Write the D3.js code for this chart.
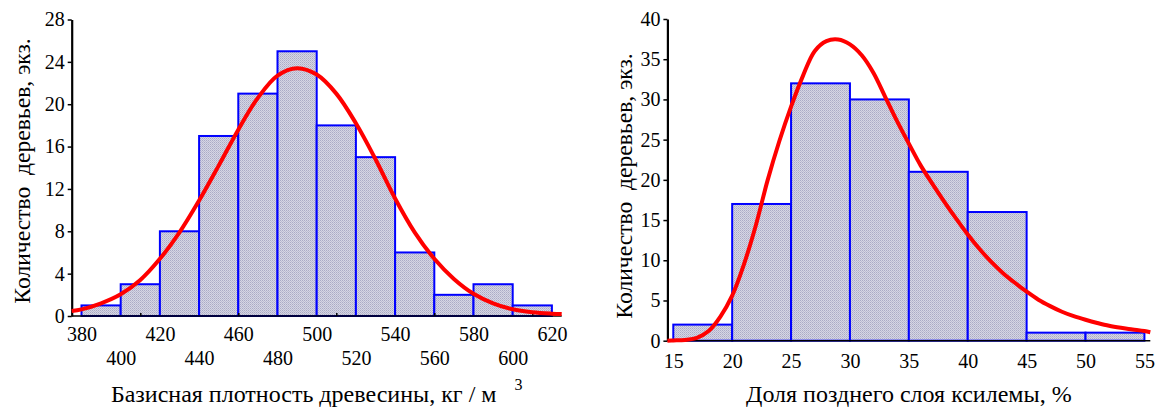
<!DOCTYPE html>
<html>
<head>
<meta charset="utf-8">
<script src="https://cdn.jsdelivr.net/npm/d3@7"></script>
<style>
  body { margin: 0; background: #fff; }
  svg { display: block; }
  svg text { font-family: "Liberation Serif", "Times New Roman", serif; white-space: pre; }
</style>
</head>
<body>
<svg id="chart"></svg>
<script>
// left panel: basic density of wood
let densityEdges = [380, 400, 420, 440, 460, 480, 500, 520, 540, 560, 580, 600, 620];
let densityCounts = [1, 3, 8, 17, 21, 25, 18, 15, 6, 2, 3, 1];
let densityTicks = [380, 400, 420, 440, 460, 480, 500, 520, 540, 560, 580, 600, 620];
let densityMinorTicks = [410, 460, 510, 560, 610];
let densityYTicks = [0, 4, 8, 12, 16, 20, 24, 28];
// fitted curve
let densityCurveX = [375, 380, 390, 400, 410, 420, 430, 440, 450, 460, 470, 480, 490, 500, 510, 520, 530, 540, 550, 560, 570, 580, 590, 600, 610, 620, 625];
let densityCurveY = [0.47, 0.63, 1.2, 2.05, 3.4, 5.4, 7.9, 10.9, 14.2, 17.6, 20.6, 22.7, 23.4, 22.8, 21.0, 18.2, 14.8, 11.1, 7.9, 5.4, 3.5, 2.1, 1.2, 0.64, 0.36, 0.22, 0.18];

// right panel: share of latewood
let latewoodEdges = [15, 20, 25, 30, 35, 40, 45, 50, 55];
let latewoodCounts = [2, 17, 32, 30, 21, 16, 1, 1];
let latewoodTicks = [15, 20, 25, 30, 35, 40, 45, 50, 55];
let latewoodYTicks = [0, 5, 10, 15, 20, 25, 30, 35, 40];
let latewoodCurveX = [14.5, 15, 16, 17, 18, 19, 20, 21, 22, 23, 24, 25, 26, 27, 28, 29, 30, 31, 32, 33, 34, 35, 36, 37, 38, 39, 40, 41, 42, 43, 44, 45, 46, 47, 48, 49, 50, 51, 52, 53, 54, 55, 55.5];
let latewoodCurveY = [0, 0.03, 0.1, 0.35, 1.2, 3.0, 5.6, 9.5, 14.3, 19.9, 24.8, 29.1, 32.9, 36.0, 37.25, 37.45, 36.85, 35.5, 33.3, 30.3, 27.3, 24.5, 21.8, 19.5, 17.3, 15.2, 13.2, 11.4, 9.8, 8.4, 7.2, 6.1, 5.1, 4.3, 3.6, 3.05, 2.6, 2.2, 1.85, 1.6, 1.4, 1.2, 1.05];

let width = 1156;
let height = 407;
let font = 20;
let titleFont = 24;
let serif = "Liberation Serif, Times New Roman, serif";

let svg = d3.select("#chart").attr("width", width).attr("height", height);

// dotted fill of the bars
let defs = svg.append("defs");
let pat = defs.append("pattern")
    .attr("id", "dots")
    .attr("patternUnits", "userSpaceOnUse")
    .attr("width", 2)
    .attr("height", 2);
pat.append("rect").attr("width", 2).attr("height", 2).attr("fill", "#d6d6e4");
pat.append("rect").attr("width", 1).attr("height", 1).attr("fill", "#ababc6");
pat.append("rect").attr("x", 1).attr("y", 1).attr("width", 1).attr("height", 1).attr("fill", "#bcbcd2");

let drawPanel = (p) => {
    let x = d3.scaleLinear().domain(p.xDomain).range(p.xRange);
    let y = d3.scaleLinear().domain(p.yDomain).range(p.yRange);
    let g = svg.append("g");

    // bars
    let bins = p.counts.map((c, i) => [p.edges[i], p.edges[i + 1], c]);
    g.selectAll("rect.bar")
        .data(bins)
        .enter()
        .append("rect")
        .attr("class", "bar")
        .attr("x", d => x(d[0]))
        .attr("width", d => x(d[1]) - x(d[0]))
        .attr("y", d => y(d[2]))
        .attr("height", d => y(0) - y(d[2]))
        .attr("fill", "url(#dots)")
        .attr("stroke", "#0000ff")
        .attr("stroke-width", 2);

    // x axis line + small inner ticks
    let xAxis = g.append("g")
        .attr("transform", "translate(0," + y(0) + ")")
        .call(d3.axisBottom(x).tickValues(p.minorTicks).tickSize(-3).tickFormat(""));
    xAxis.select(".domain").attr("d", "M" + p.xRange[0] + ",0H" + p.xRange[1]).attr("stroke-width", 1.5);
    xAxis.selectAll(".tick line").attr("stroke-width", 1.5);

    // x tick labels
    let xLab = g.append("g")
        .attr("transform", "translate(0," + y(0) + ")")
        .call(d3.axisBottom(x).tickValues(p.xTicks).tickSize(0).tickPadding(0));
    xLab.select(".domain").remove();
    xLab.selectAll("text")
        .style("font-family", serif)
        .style("font-size", font + "px")
        .attr("fill", "#000")
        .attr("y", (d, i) => p.twoRows && i % 2 == 1 ? p.labelY2 : p.labelY1)
        .attr("dy", "0.32em");

    // y axis
    let yAxis = g.append("g")
        .attr("transform", "translate(" + p.xRange[0] + ",0)")
        .call(d3.axisLeft(y).tickValues(p.yTicks).tickSize(4).tickPadding(3).tickSizeOuter(0));
    yAxis.select(".domain").attr("stroke-width", 2.2);
    yAxis.selectAll(".tick line").attr("stroke-width", 1.5);
    yAxis.selectAll("text")
        .style("font-family", serif)
        .style("font-size", font + "px")
        .attr("fill", "#000");

    // fitted curve
    let pts = p.curveX.map((v, i) => [v, p.curveY[i]]);
    g.append("path")
        .datum(pts)
        .attr("fill", "none")
        .attr("stroke", "#ff0000")
        .attr("stroke-width", 4)
        .attr("d", d3.line().x(d => x(d[0])).y(d => y(d[1])).curve(d3.curveCatmullRom));

    // y title
    g.append("text")
        .attr("transform", "translate(" + p.yTitleX + "," + p.yTitleY + ") rotate(-90)")
        .attr("text-anchor", "middle")
        .style("font-size", "23.6px")
        .text("Количество  деревьев, экз.");

    // x title
    let t = g.append("text")
        .attr("x", (p.xRange[0] + p.xRange[1]) / 2)
        .attr("y", 402)
        .attr("text-anchor", "middle")
        .style("font-size", titleFont + "px");
    t.append("tspan").text(p.xTitle);
    if (p.sup) {
        t.append("tspan").attr("dx", 18).attr("dy", -12).style("font-size", "16px").text(p.sup);
    }
};

drawPanel({
    edges: densityEdges, counts: densityCounts,
    xDomain: [375, 625], xRange: [71.7, 561.7],
    yDomain: [0, 28], yRange: [316, 19.5],
    xTicks: densityTicks, minorTicks: densityMinorTicks, yTicks: densityYTicks,
    twoRows: true, labelY1: 19, labelY2: 43,
    curveX: densityCurveX, curveY: densityCurveY,
    yTitleX: 30, yTitleY: 171,
    xTitle: "Базисная плотность древесины, кг / м", sup: "3"
});

drawPanel({
    edges: latewoodEdges, counts: latewoodCounts,
    xDomain: [14.5, 55.5], xRange: [667.4, 1150.3],
    yDomain: [0, 40], yRange: [340.7, 19],
    xTicks: latewoodTicks, minorTicks: [], yTicks: latewoodYTicks,
    twoRows: false, labelY1: 21, labelY2: 21,
    curveX: latewoodCurveX, curveY: latewoodCurveY,
    yTitleX: 632, yTitleY: 186,
    xTitle: "Доля позднего слоя ксилемы, %", sup: null
});
</script>
</body>
</html>
